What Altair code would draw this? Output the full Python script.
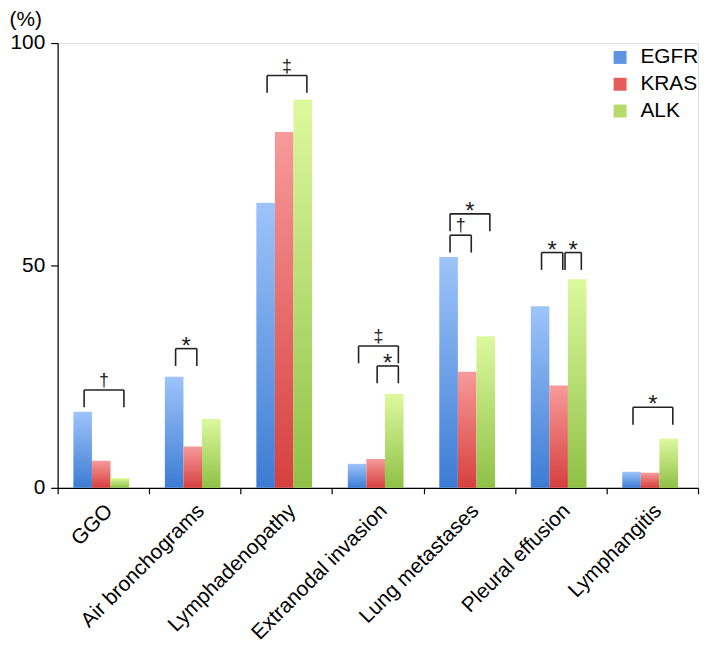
import json
import altair as alt
import pandas as pd

categories = ["GGO", "Air bronchograms", "Lymphadenopathy", "Extranodal invasion",
              "Lung metastases", "Pleural effusion", "Lymphangitis"]
series = ["EGFR", "KRAS", "ALK"]
egfr = [17.1, 25.0, 64.1, 5.4, 51.9, 40.8, 3.6]
kras = [6.1, 9.3, 80.0, 6.5, 26.1, 23.0, 3.4]
alk = [2.2, 15.5, 87.3, 21.1, 34.1, 46.9, 11.1]

# significance brackets: category index, from series, to series, height (%), symbol
br_cat = [0, 1, 2, 3, 3, 4, 4, 5, 5, 6]
br_from = [0, 0, 0, 0, 1, 0, 0, 0, 1, 0]
br_to = [2, 1, 2, 2, 2, 2, 1, 1, 2, 2]
br_top = [22.0, 31.3, 92.7, 31.9, 27.4, 61.6, 56.8, 52.9, 52.9, 18.1]
br_sym = ["†", "*", "‡", "‡", "*", "*", "†", "*", "*", "*"]

top_colors = ["#9ec4fa", "#f89a9a", "#ddf99e"]
bottom_colors = ["#3c7cd4", "#d6403e", "#8fc146"]
legend_colors = ["#5d95e2", "#e65c5b", "#b4db6c"]

FONT = "Liberation Sans"
START = 0.172
BW = 0.203
LEG = 3.9

rows = []
for i, c in enumerate(categories):
    for s, vals in enumerate([egfr, kras, alk]):
        x = i + START + s * BW
        rows.append({"cat": c, "series": series[s], "x": x, "x2": x + BW,
                     "y": vals[i], "y0": 0.0})
bars = pd.DataFrame(rows)


def center(i, s):
    return i + START + BW * (s + 0.5)


legs, hl, syms = [], [], []
for k in range(len(br_cat)):
    i, a, b, t = br_cat[k], br_from[k], br_to[k], br_top[k]
    shared = any(br_cat[j] == i and br_to[j] == a and br_top[j] == t
                 for j in range(len(br_cat)) if j != k)
    xl = center(i, a) + (0.07 if shared else 0.016)
    xr = center(i, b) + 0.045
    legs.append({"x": xl, "y": t, "y0": t - LEG})
    legs.append({"x": xr, "y": t, "y0": t - LEG})
    hl.append({"x": xl, "x2": xr, "y": t})
    syms.append({"x": (xl + xr) / 2, "y": t, "sym": br_sym[k]})
legs = pd.DataFrame(legs)
hl = pd.DataFrame(hl)
syms = pd.DataFrame(syms)

label_expr = ("datum.value % 1 == 0.5 ? " + json.dumps(categories).replace('"', "'")
              + "[floor(datum.value)] : ''")

xscale = alt.Scale(domain=[0, 7], nice=False, zero=False)
yscale = alt.Scale(domain=[0, 100], nice=False)
xaxis = alt.Axis(values=[v / 2 for v in range(15)], labelExpr=label_expr, title=None,
                 grid=False, labelAngle=-45, labelAlign="right", labelBaseline="top",
                 labelFontSize=21, labelFont=FONT, labelColor="black", labelPadding=6,
                 labelOffset=-2, labelLimit=0,
                 labelOverlap=False, labelFlush=False, tickSize=6, tickColor="black",
                 tickWidth=1.2, domainColor="black", domainWidth=1.2,
                 tickOpacity={"condition": {"test": "datum.value % 1 != 0", "value": 0}, "value": 1})
yaxis = alt.Axis(values=[0, 50, 100], title="(%)", grid=False, labelFontSize=21,
                 labelFont=FONT, labelColor="black", labelPadding=6, tickSize=7,
                 tickColor="black", tickWidth=1.2, domainColor="black", domainWidth=1.2,
                 titleAngle=0, titleAlign="left", titleBaseline="middle", titleX=-49,
                 titleY=-24, titleFontSize=21, titleFont=FONT, titleFontWeight="normal",
                 titleColor="black")

X = alt.X("x:Q", scale=xscale, axis=xaxis)
Y = alt.Y("y:Q", scale=yscale, axis=yaxis)

layers = []
for s in range(3):
    grad = {"gradient": "linear", "x1": 0, "y1": 0, "x2": 0, "y2": 1,
            "stops": [{"offset": 0, "color": top_colors[s]},
                      {"offset": 1, "color": bottom_colors[s]}]}
    layers.append(
        alt.Chart(bars[bars["series"] == series[s]]).mark_bar(color=grad, stroke=None)
        .encode(x=X, x2="x2:Q", y=Y, y2="y0:Q")
    )

legend_layer = alt.Chart(bars).mark_point(filled=True, opacity=0, size=1).encode(
    x=X, y=Y,
    color=alt.Color("series:N", scale=alt.Scale(domain=series, range=legend_colors),
                    legend=alt.Legend(orient="none", legendX=556, legendY=4, title=None,
                                      symbolType="square", symbolSize=170,
                                      symbolOpacity=1, symbolStrokeWidth=0,
                                      labelFontSize=21, labelFont=FONT,
                                      labelColor="black", labelOffset=10,
                                      rowPadding=5, padding=0)),
)

leg_layer = alt.Chart(legs).mark_rule(color="#222222", strokeWidth=1.6).encode(
    x=X, y=Y, y2="y0:Q")
hl_layer = alt.Chart(hl).mark_rule(color="#222222", strokeWidth=1.6).encode(
    x=X, x2="x2:Q", y=Y)
star_layer = alt.Chart(syms[syms["sym"] == "*"]).mark_text(
    font=FONT, fontSize=24, color="#222222", baseline="alphabetic", dy=5).encode(
    x=X, y=Y, text="sym:N")
dag_layer = alt.Chart(syms[syms["sym"] != "*"]).mark_text(
    font=FONT, fontSize=18, color="#222222", baseline="alphabetic", dy=-4).encode(
    x=X, y=Y, text="sym:N")

chart = alt.layer(*layers, legend_layer, leg_layer, hl_layer, star_layer, dag_layer).properties(
    width=645, height=448,
    autosize=alt.AutoSizeParams(type="none"),
    padding={"left": 50, "top": 33, "right": 2, "bottom": 155},
).configure_view(stroke=None).configure(font=FONT)

chart.save("out.html", embed_options={"renderer": "svg", "actions": False})
